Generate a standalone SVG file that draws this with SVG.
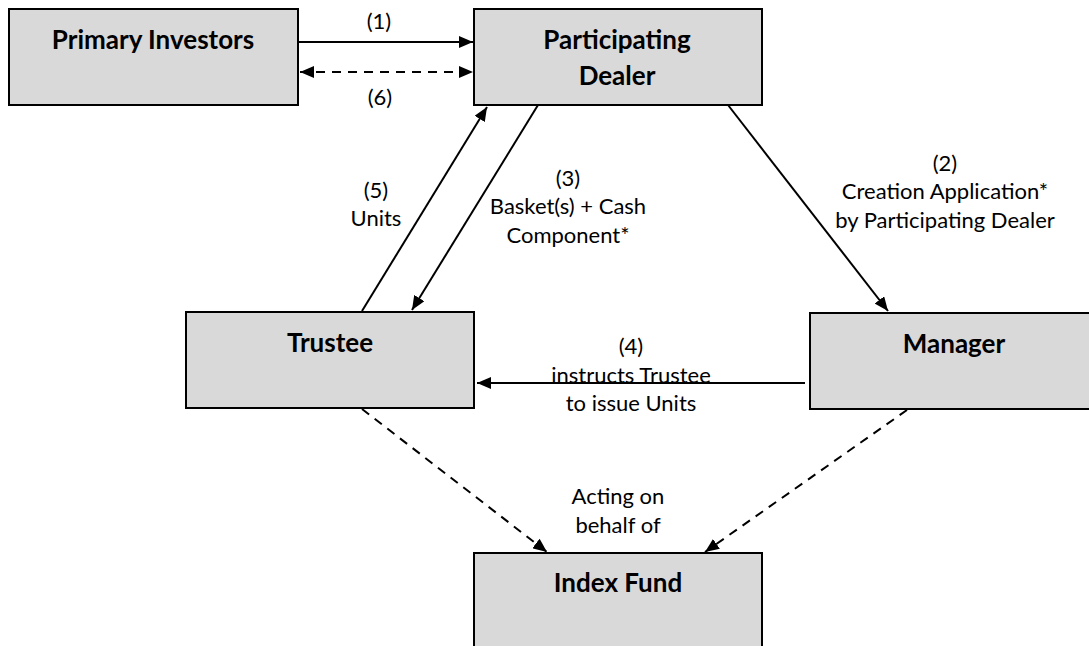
<svg xmlns="http://www.w3.org/2000/svg" width="1089" height="646" viewBox="0 0 1089 646">
<defs>
<style>
.box{fill:#d9d9d9;stroke:#000;stroke-width:2}
.t{font-family:Lato,"Liberation Sans",sans-serif;font-weight:bold;font-size:26px;fill:#000;text-anchor:middle}
.l{font-family:Lato,"Liberation Sans",sans-serif;font-size:22px;fill:#000;text-anchor:middle}
.c{stroke:#000;stroke-width:2;fill:none}
.d{stroke-dasharray:9,7}
</style>
<marker id="ah" viewBox="0 0 14 12" refX="14" refY="6" markerWidth="7" markerHeight="6" orient="auto-start-reverse" markerUnits="strokeWidth">
<path d="M0,0 L14,6 L0,12 z" fill="#000"/>
</marker>
</defs>
<rect width="1089" height="646" fill="#fff"/>
<g id="connectors">
<line class="c" x1="298" y1="42" x2="473" y2="42" marker-end="url(#ah)"/>
<line class="c d" x1="300" y1="72" x2="473" y2="72" marker-start="url(#ah)" marker-end="url(#ah)"/>
<line class="c" x1="362" y1="311" x2="487" y2="107" marker-end="url(#ah)"/>
<line class="c" x1="538" y1="105" x2="412" y2="310" marker-end="url(#ah)"/>
<line class="c" x1="728" y1="105" x2="888" y2="311" marker-end="url(#ah)"/>
<line class="c" x1="805" y1="383" x2="477" y2="383" marker-end="url(#ah)"/>
<line class="c d" x1="362" y1="409" x2="547" y2="552" marker-end="url(#ah)"/>
<line class="c d" x1="907" y1="410" x2="705" y2="552" marker-end="url(#ah)"/>
<text class="l" x="379" y="29">(1)</text>
<text class="l" x="380" y="105">(6)</text>
<text class="l" x="376" y="198">(5)</text>
<text class="l" x="376" y="226">Units</text>
<text class="l" x="568" y="186">(3)</text>
<text class="l" x="568" y="214">Basket(s) + Cash</text>
<text class="l" x="568" y="243">Component*</text>
<text class="l" x="945" y="171">(2)</text>
<text class="l" x="945" y="199">Creation Application*</text>
<text class="l" x="945" y="228">by Participating Dealer</text>
<text class="l" x="631" y="354">(4)</text>
<text class="l" x="631" y="383">instructs Trustee</text>
<text class="l" x="631" y="411">to issue Units</text>
<text class="l" x="618" y="504">Acting on</text>
<text class="l" x="618" y="533">behalf of</text>
</g>
<g id="primary-investors">
<rect class="box" x="9" y="9" width="289" height="96"/>
<text class="t" x="153" y="49">Primary Investors</text>
</g>
<g id="participating-dealer">
<rect class="box" x="474" y="9" width="288" height="96"/>
<text class="t" x="617" y="49">Participating</text>
<text class="t" x="617" y="85">Dealer</text>
</g>
<g id="trustee">
<rect class="box" x="186" y="312" width="288" height="96"/>
<text class="t" x="330" y="352">Trustee</text>
</g>
<g id="manager">
<rect class="box" x="810" y="313" width="290" height="96"/>
<text class="t" x="954" y="353">Manager</text>
</g>
<g id="index-fund">
<rect class="box" x="474" y="553" width="288" height="100"/>
<text class="t" x="618" y="592">Index Fund</text>
</g>
</svg>
